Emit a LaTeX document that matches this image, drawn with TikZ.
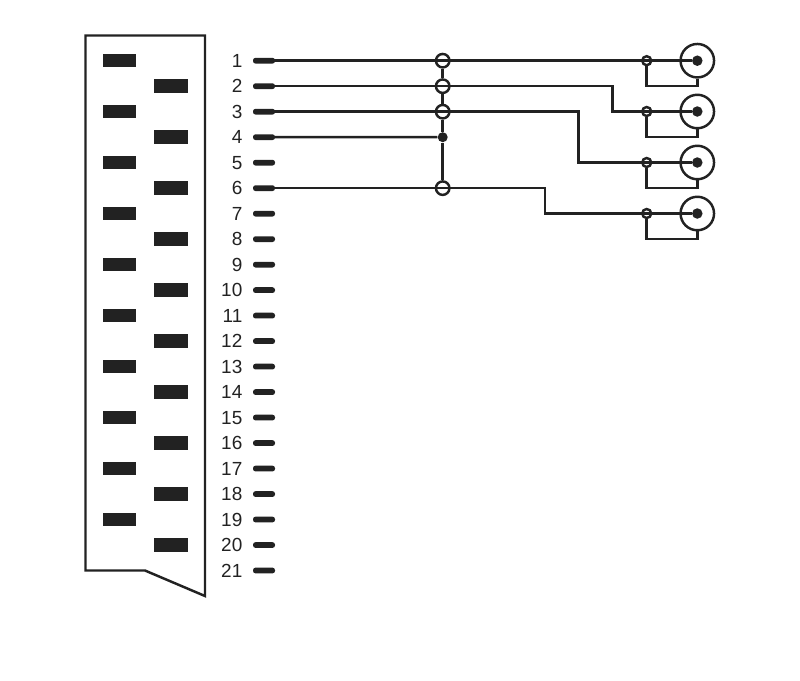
\documentclass[tikz,border=0pt]{standalone}
\usepackage{fontspec}
\setmainfont{Liberation Sans}
\usetikzlibrary{positioning}
\definecolor{ink}{HTML}{222222}
\tikzset{
  wire/.style={draw=ink,line width=1.4pt,line join=miter},
  padbox/.style={rectangle,fill=ink,inner sep=0pt,minimum width=0.68cm,minimum height=0.27cm},
  pinstub/.style={rectangle,rounded corners=0.05cm,fill=ink,inner sep=0pt,minimum width=0.44cm,minimum height=0.115cm},
  pinlabel/.style={text=ink,font=\fontsize{10.8}{12}\selectfont,inner sep=0pt,left=0.2cm of #1},
  opendot/.style={circle,draw=ink,line width=1.4pt,inner sep=0pt,minimum size=0.27cm},
  tapdot/.style={circle,draw=ink,line width=1.4pt,inner sep=0pt,minimum size=0.18cm},
  soliddot/.style={circle,fill=ink,inner sep=0pt,minimum size=0.2cm},
  rcaring/.style={circle,draw=ink,line width=1.4pt,inner sep=0pt,minimum size=0.67cm},
}
\begin{document}
\begin{tikzpicture}[x=0.02cm,y=0.02cm]
  \useasboundingbox (0,0) rectangle (800,-680);
  \def\xbus{442.7}
  \def\xtap{646.7}
  \def\xrca{697.3}

  % housing
  \draw[wire] (85.5,-35.5) -- (205,-35.5) -- (205,-596) -- (145,-570.5) -- (85.5,-570.5) -- cycle;

  % contacts and pins
  \foreach \n in {1,...,21} {
    \pgfmathsetmacro{\ypin}{-60.7-25.49*(\n-1)}
    \node[pinstub] (pin\n) at (264,\ypin) {};
    \node[pinlabel=pin\n] (label\n) {\n};
    \ifnum\n<21
      \ifodd\n
        \node[padbox] (pad\n) at (119.5,\ypin) {};
      \else
        \node[padbox] (pad\n) at (170.7,\ypin) {};
      \fi
    \fi
  }

  % common bus
  \foreach \p in {1,2,3,6} {
    \node[opendot] (bus\p) at (\xbus,-60.7-25.49*\p+25.49) {};
  }
  \node[soliddot] (bus4) at (\xbus,-137.2) {};
  \draw[wire] (bus1) -- (bus2);
  \draw[wire] (bus2) -- (bus3);
  \draw[wire] (bus3) -- (bus4);
  \draw[wire] (bus4) -- (bus6);
  \draw[wire] (pin4.center) -- (bus4);

  % jacks
  \foreach \j/\p/\xbend/\yjack in {1/1/600/60.7, 2/2/612.3/111.5, 3/3/578.7/162.5, 4/6/545/213.5} {
    \node[rcaring] (rca\j) at (\xrca,-\yjack) {};
    \node[soliddot,minimum size=0.21cm] (core\j) at (\xrca,-\yjack) {};
    \node[tapdot] (tap\j) at (\xtap,-\yjack) {};
    \coordinate (shield\j) at (\xrca,-\yjack-25.5);
    \coordinate (bend\j) at (\xbend,0 |- pin\p);
    \draw[wire] (pin\p.center) -- (bend\j) |- (core\j);
    \draw[wire] (tap\j.south) |- (shield\j) -- (rca\j.south);
  }
\end{tikzpicture}
\end{document}
